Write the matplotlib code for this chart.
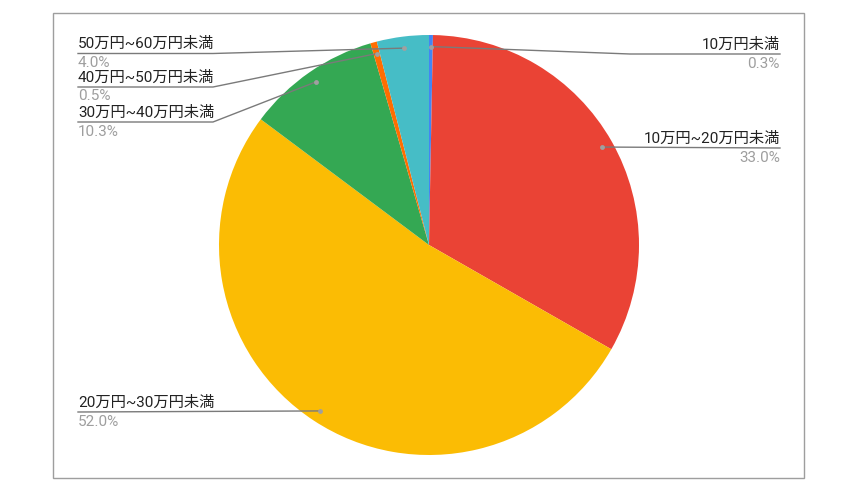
import numpy as np
import matplotlib.pyplot as plt

labels = ['10万円未満', '10万円~20万円未満', '20万円~30万円未満',
          '30万円~40万円未満', '40万円~50万円未満', '50万円~60万円未満']
shares = [0.3, 33.0, 52.0, 10.3, 0.5, 4.0]
colors = ['#4285F4', '#EA4335', '#FBBC04', '#34A853', '#FF6D01', '#46BDC6']

# label layout (pixels from top): side, underline y, elbow x
sides = ['right', 'right', 'left', 'left', 'left', 'left']
line_y = [54, 148, 412, 122, 87, 53.5]
elbow_x = [630, None, None, 213, 213, 213]

W, H = 857, 495
fonts = ['Roboto', 'Noto Sans CJK JP', 'DejaVu Sans']

fig = plt.figure(figsize=(W / 100, H / 100), dpi=100)
ax = fig.add_axes([0, 0, 1, 1])

cx, cy, R = 429, H - 245, 210
wedges, _ = ax.pie(shares, colors=colors, startangle=90, counterclock=False,
                   center=(cx, cy), radius=R,
                   wedgeprops=dict(linewidth=0))
ax.set_xlim(0, W)
ax.set_ylim(0, H)
ax.set_aspect('equal')
ax.axis('off')

# outer frame
ax.add_patch(plt.Rectangle((53, H - 478), 751, 465, fill=False,
                           ec='#9e9e9e', lw=1, zorder=0))

for w, lab, val, side, ly, ex in zip(wedges, labels, shares, sides, line_y, elbow_x):
    ang = np.deg2rad((w.theta1 + w.theta2) / 2)
    dx = cx + 0.945 * R * np.cos(ang)
    dy = cy + 0.945 * R * np.sin(ang)
    y = H - ly
    end = 780 if side == 'right' else 78
    if ex is None:
        xs, ys = [dx, end], [dy, y]
    else:
        xs, ys = [dx, ex, end], [dy, y, y]
    ax.plot(xs, ys, color='#7a7a7a', lw=1, zorder=3)
    ax.plot(dx, dy, 'o', ms=3.5, color='#a0a0a0', mec='none', zorder=4)
    ha = 'right' if side == 'right' else 'left'
    ax.text(end, y + 9.5, lab, ha=ha, va='center', fontsize=11,
            color='#222222', family=fonts)
    ax.text(end, y - 9.5, '%.1f%%' % val, ha=ha, va='center', fontsize=11,
            color='#9e9e9e', family=fonts)

fig.savefig('out.png', dpi=100)
